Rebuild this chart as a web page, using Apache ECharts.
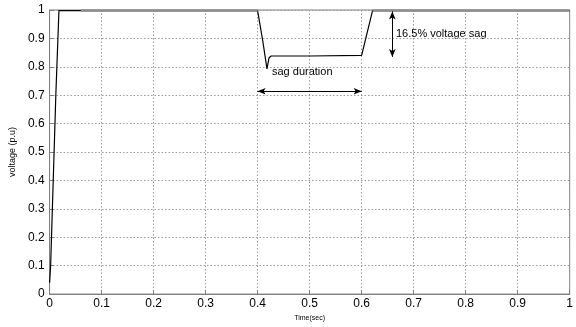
<!DOCTYPE html>
<html>
<head>
<meta charset="utf-8">
<script src="https://cdn.jsdelivr.net/npm/echarts@6/dist/echarts.min.js"></script>
<style>
html,body{margin:0;padding:0;background:#fff;}
#chart{width:576px;height:327px;}
</style>
</head>
<body>
<div id="chart"></div>
<script>
// Load voltage trace (time in s, voltage in p.u.)
const timeSec = [0, 0.002, 0.012, 0.018, 0.06, 0.2, 0.4, 0.41, 0.418, 0.422, 0.426, 0.5, 0.6, 0.602, 0.621, 0.7, 1.0];
const voltagePu = [0.04, 0.10, 0.70, 0.998, 0.998, 0.998, 0.998, 0.89, 0.793, 0.832, 0.838, 0.838, 0.840, 0.840, 0.998, 0.998, 0.998];

// Steady-state supply level, drawn outside the sag
const refTime = [0.06, 0.4, 0.4, 0.621, 0.621, 1.0];
const refLevel = [0.998, 0.998, null, null, 0.998, 0.998];

// Annotation spans
const sagStart = 0.4, sagEnd = 0.6, durationLevel = 0.714;
const depthTime = 0.659, depthTop = 0.995, depthBottom = 0.835;

const axisTicks = [0, 0.1, 0.2, 0.3, 0.4, 0.5, 0.6, 0.7, 0.8, 0.9, 1];

const chart = echarts.init(document.getElementById('chart'));
const axisText = {color: '#000', fontFamily: 'Liberation Sans, Arial, sans-serif', fontSize: 12};
const dotted = {show: true, lineStyle: {color: '#9a9a9a', type: [1.5, 2], width: 1}};

chart.setOption({
  animation: false,
  backgroundColor: '#fff',
  grid: {left: 48, right: 6, top: 10, bottom: 27, show: true, borderColor: '#7f7f7f', borderWidth: 1, backgroundColor: 'transparent'},
  xAxis: {
    type: 'value', min: axisTicks[0], max: axisTicks[axisTicks.length - 1], interval: 0.1,
    name: 'Time(sec)', nameLocation: 'middle', nameGap: 17,
    nameTextStyle: {fontSize: 7, color: '#000', fontFamily: 'Liberation Sans, Arial, sans-serif'},
    axisLine: {lineStyle: {color: '#7f7f7f'}},
    axisTick: {inside: true, length: 4, lineStyle: {color: '#7f7f7f'}},
    axisLabel: Object.assign({margin: 4}, axisText),
    splitLine: dotted
  },
  yAxis: {
    type: 'value', min: axisTicks[0], max: axisTicks[axisTicks.length - 1], interval: 0.1,
    name: 'voltage (p.u)', nameLocation: 'middle', nameGap: 32,
    nameTextStyle: {fontSize: 9, color: '#000', fontFamily: 'Liberation Sans, Arial, sans-serif'},
    axisLine: {lineStyle: {color: '#7f7f7f'}},
    axisTick: {inside: true, length: 4, lineStyle: {color: '#7f7f7f'}},
    axisLabel: Object.assign({margin: 5}, axisText),
    splitLine: dotted
  },
  series: [
    {
      type: 'line', name: 'load voltage', showSymbol: false, silent: true, z: 2,
      data: timeSec.map((t, i) => [t, voltagePu[i]]),
      lineStyle: {color: '#000', width: 1.2},
      markLine: {
        silent: true, symbol: ['arrow', 'arrow'], symbolSize: [5, 8],
        lineStyle: {color: '#000', width: 1, type: 'solid'},
        label: {show: false},
        data: [
          [{coord: [sagStart, durationLevel]}, {coord: [sagEnd, durationLevel]}],
          [{coord: [depthTime, depthTop]}, {coord: [depthTime, depthBottom]}]
        ]
      }
    },
    {
      type: 'line', name: 'supply', showSymbol: false, silent: true, z: 3,
      data: refTime.map((t, i) => [t, refLevel[i]]),
      connectNulls: false,
      lineStyle: {color: '#8e8e8e', width: 2.5}
    }
  ],
  graphic: [
    {type: 'text', left: 272, top: 66, style: {text: 'sag duration', fill: '#000', font: '11px "Liberation Sans", Arial, sans-serif'}},
    {type: 'text', left: 396, top: 28, style: {text: '16.5% voltage sag', fill: '#000', font: '11px "Liberation Sans", Arial, sans-serif'}}
  ]
});
</script>
</body>
</html>
